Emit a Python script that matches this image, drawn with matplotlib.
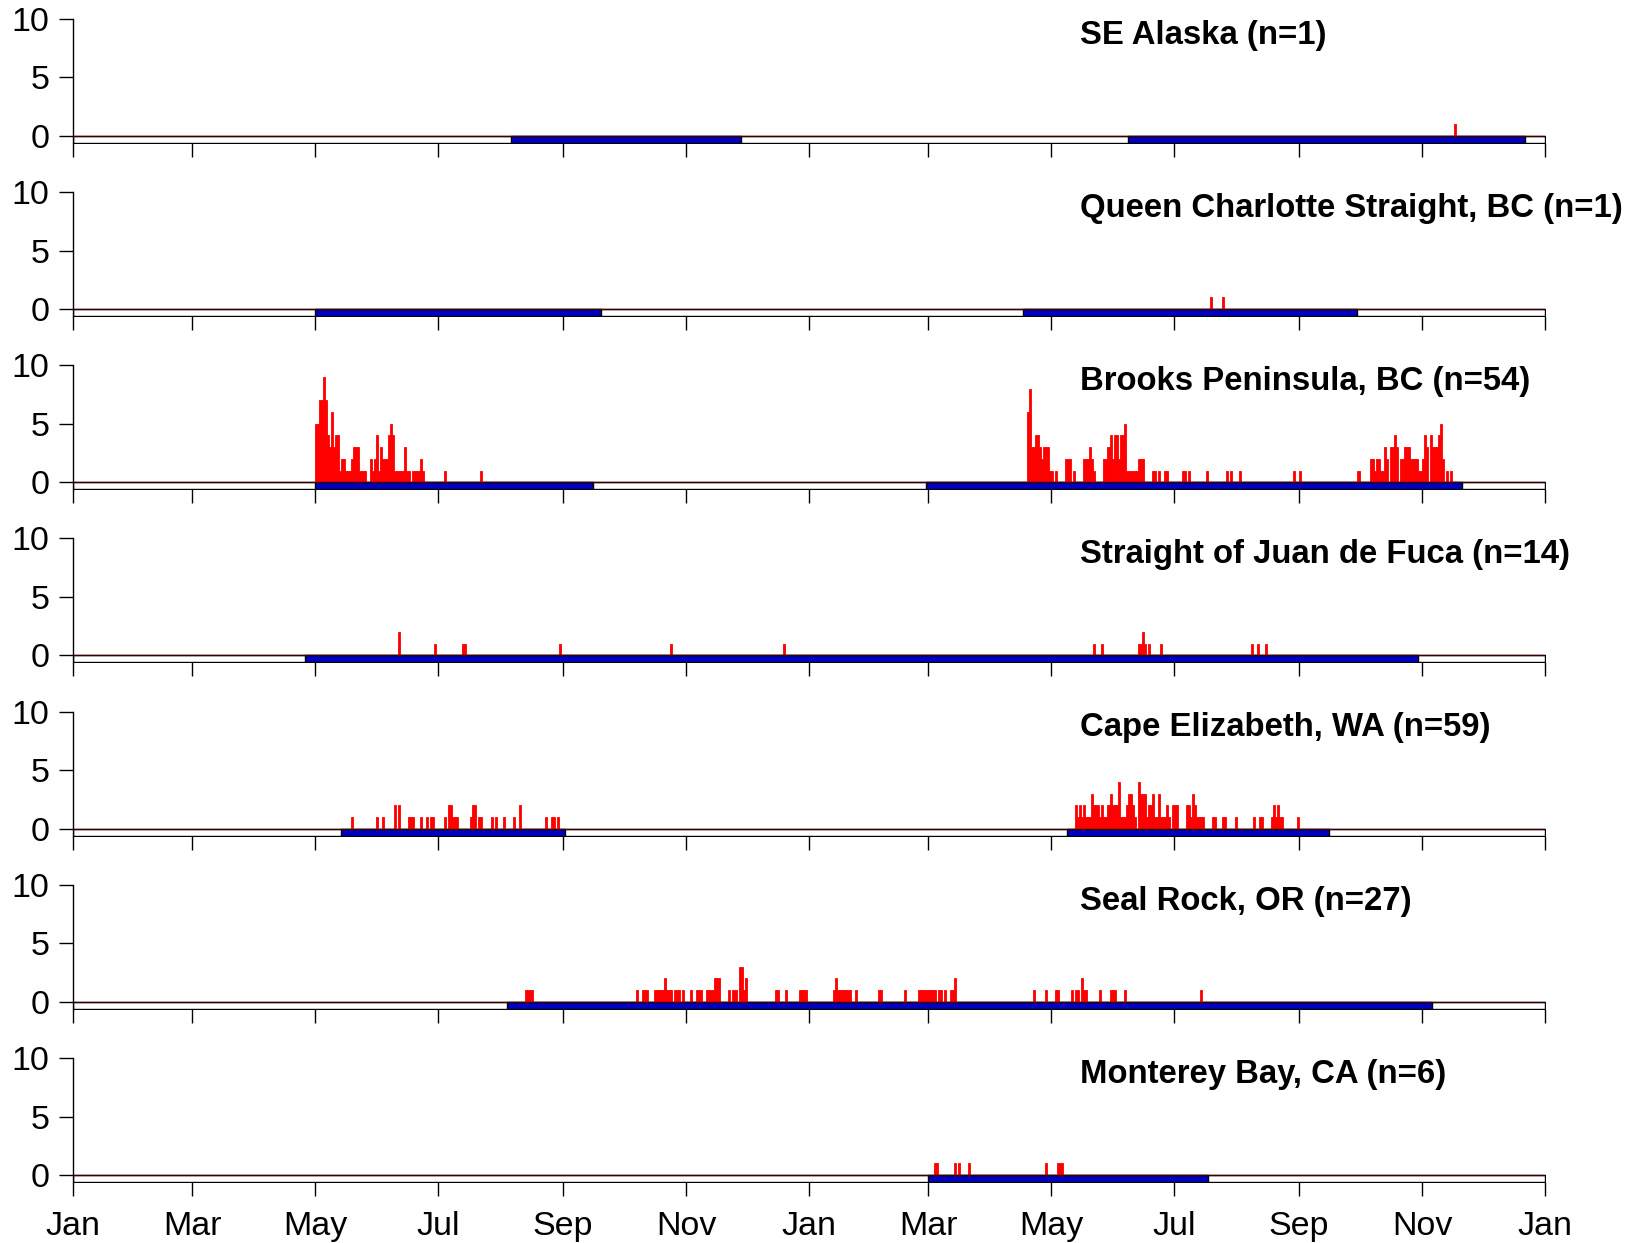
import numpy as np
import pandas as pd
import matplotlib
matplotlib.use("Agg")
import matplotlib.pyplot as plt
import matplotlib.transforms as mtransforms

# === DATA (day index from Jan 1 of year 1, daily counts) ===
alaska = [(685, 1)]
alaska_deploy = [(217, 331), (523, 720)]

queen = [(564, 1), (570, 1)]
queen_deploy = [(120, 262), (471, 637)]

brooks = [(120, 5), (121, 5), (122, 7), (123, 7), (124, 9), (125, 7), (126, 4), (127, 3),
          (128, 6), (129, 3), (130, 4), (131, 4), (132, 1), (133, 2), (134, 2), (135, 1),
          (136, 1), (137, 1), (138, 2), (139, 3), (140, 3), (141, 3), (142, 1), (143, 1),
          (144, 1), (147, 2), (148, 1), (149, 2), (150, 4), (151, 1), (152, 3), (153, 2),
          (154, 2), (155, 2), (156, 4), (157, 5), (158, 4), (159, 1), (160, 1), (161, 1),
          (162, 1), (163, 1), (164, 3), (165, 1), (166, 1), (168, 1), (169, 1), (170, 1),
          (171, 1), (172, 2), (173, 1), (184, 1), (202, 1),
          (473, 6), (474, 8), (475, 3), (476, 3), (477, 4), (478, 4), (479, 3), (480, 2),
          (481, 3), (482, 3), (483, 3), (484, 1), (485, 1), (487, 1), (492, 2), (493, 2),
          (494, 2), (496, 1), (501, 2), (502, 2), (503, 2), (504, 3), (505, 2), (506, 1),
          (511, 2), (512, 2), (513, 3), (514, 4), (515, 2), (516, 4), (517, 4), (518, 2),
          (519, 4), (520, 4), (521, 5), (522, 1), (523, 1), (524, 1), (525, 1), (526, 1),
          (527, 1), (528, 2), (529, 2), (530, 2), (535, 1), (536, 1), (538, 1), (541, 1),
          (542, 1), (550, 1), (551, 1), (553, 1), (562, 1), (572, 1), (574, 1), (578, 1),
          (605, 1), (608, 1), (637, 1), (643, 2), (644, 2), (645, 1), (646, 2), (647, 2),
          (648, 1), (649, 1), (650, 3), (651, 2), (653, 3), (654, 3), (655, 4), (656, 3),
          (658, 2), (659, 2), (660, 3), (661, 3), (662, 3), (663, 2), (664, 2), (665, 2),
          (666, 2), (667, 1), (668, 1), (669, 2), (670, 4), (671, 3), (673, 4), (674, 3),
          (675, 3), (676, 3), (677, 4), (678, 5), (679, 2), (681, 1), (683, 1)]
brooks_deploy = [(120, 258), (423, 689)]

fuca = [(161, 2), (179, 1), (193, 1), (194, 1), (241, 1), (296, 1), (352, 1), (506, 1),
        (510, 1), (528, 1), (529, 1), (530, 2), (531, 1), (533, 1), (539, 1), (584, 1),
        (587, 1), (591, 1)]
fuca_deploy = [(115, 667)]

cape = [(138, 1), (150, 1), (153, 1), (159, 2), (161, 2), (166, 1), (167, 1), (168, 1),
        (172, 1), (175, 1), (177, 1), (178, 1), (184, 1), (186, 2), (187, 2), (188, 1),
        (189, 1), (190, 1), (197, 1), (198, 2), (199, 2), (201, 1), (202, 1), (207, 1),
        (209, 1), (213, 1), (218, 1), (221, 2), (234, 1), (237, 1), (238, 1), (240, 1),
        (497, 2), (498, 1), (499, 2), (500, 1), (501, 2), (502, 1), (503, 1), (504, 1),
        (505, 3), (506, 2), (507, 2), (508, 2), (509, 1), (510, 2), (511, 1), (512, 1),
        (513, 2), (514, 3), (515, 2), (516, 2), (517, 2), (518, 4), (519, 1), (520, 1),
        (521, 1), (522, 2), (523, 3), (524, 3), (525, 2), (526, 1), (528, 4), (529, 3),
        (530, 3), (531, 3), (532, 1), (533, 2), (534, 2), (535, 3), (536, 1), (537, 1),
        (538, 3), (539, 1), (540, 1), (541, 1), (542, 2), (543, 1), (545, 2), (546, 2),
        (547, 2), (552, 2), (553, 2), (554, 1), (555, 3), (556, 2), (557, 1), (558, 1),
        (559, 1), (560, 1), (565, 1), (566, 1), (570, 1), (571, 1), (576, 1), (585, 1),
        (588, 1), (589, 1), (594, 1), (595, 2), (596, 1), (597, 2), (598, 1), (599, 1),
        (607, 1)]
cape_deploy = [(133, 244), (493, 623)]

seal = [(224, 1), (225, 1), (226, 1), (227, 1), (279, 1), (282, 1), (283, 1), (284, 1),
        (288, 1), (289, 1), (290, 1), (291, 1), (292, 1), (293, 2), (294, 1), (295, 1),
        (296, 1), (298, 1), (299, 1), (300, 1), (302, 1), (306, 1), (309, 1), (310, 1),
        (311, 1), (314, 1), (315, 1), (316, 1), (317, 1), (318, 2), (319, 2), (320, 2),
        (325, 1), (327, 1), (328, 1), (330, 3), (331, 3), (332, 1), (333, 2), (348, 1),
        (349, 1), (353, 1), (360, 1), (361, 1), (362, 1), (363, 1), (377, 1), (378, 2),
        (379, 1), (380, 1), (381, 1), (382, 1), (383, 1), (384, 1), (385, 1), (388, 1),
        (399, 1), (400, 1), (412, 1), (419, 1), (420, 1), (421, 1), (422, 1), (423, 1),
        (424, 1), (425, 1), (426, 1), (427, 1), (429, 1), (430, 1), (432, 1), (435, 1),
        (436, 1), (437, 2), (476, 1), (482, 1), (487, 1), (488, 1), (495, 1), (497, 1),
        (498, 1), (500, 2), (501, 1), (502, 1), (509, 1), (514, 1), (515, 1), (516, 1),
        (521, 1), (559, 1)]
seal_deploy = [(215, 674)]

monterey = [(427, 1), (428, 1), (437, 1), (439, 1), (444, 1), (482, 1), (488, 1),
            (489, 1), (490, 1)]
monterey_deploy = [(424, 563)]

titles = ["SE Alaska (n=1)", "Queen Charlotte Straight, BC (n=1)",
          "Brooks Peninsula, BC (n=54)", "Straight of Juan de Fuca (n=14)",
          "Cape Elizabeth, WA (n=59)", "Seal Rock, OR (n=27)", "Monterey Bay, CA (n=6)"]
series = [alaska, queen, brooks, fuca, cape, seal, monterey]
deploys = [alaska_deploy, queen_deploy, brooks_deploy, fuca_deploy,
           cape_deploy, seal_deploy, monterey_deploy]

# month ticks every 2 months over two (non-leap) years
start = pd.Timestamp("2001-01-01")
tick_dates = pd.date_range("2001-01-01", "2003-01-01", freq="2MS")
tick_pos = [(d - start).days for d in tick_dates]
tick_labels = [d.strftime("%b") for d in tick_dates]
n_days = tick_pos[-1]

# === PLOT ===
plt.rcParams["font.family"] = ["Liberation Sans", "DejaVu Sans"]
plt.rcParams["font.size"] = 24

W, H = 1639, 1243
fig = plt.figure(figsize=(W / 100, H / 100), dpi=100)

ymin, ymax = -0.6, 10
left = 73.2 / W
width = (1545 - 73.2) / W
ax_h = 124.1
top0 = 18.8
step = 173.2

for i, (title, data, dep) in enumerate(zip(titles, series, deploys)):
    top = top0 + i * step
    ax = fig.add_axes([left, 1 - (top + ax_h) / H, width, ax_h / H])

    # white strip with outline across the whole span
    ax.broken_barh([(0, n_days)], (ymin, -ymin), facecolors="white",
                   edgecolor="black", linewidth=1.0, zorder=1)
    # deployment periods
    ax.broken_barh([(s, e - s) for s, e in dep], (ymin, -ymin),
                   facecolors="#0000c0", edgecolor="black", linewidth=1.0, zorder=2)

    days = np.array([d for d, c in data])
    counts = np.array([c for d, c in data])
    ax.bar(days, counts, width=1.0, align="edge", color="red",
           edgecolor="red", linewidth=0.6, zorder=3)
    ax.axhline(0, color="#3a0000", linewidth=1.0, zorder=4)

    ax.set_xlim(0, n_days)
    ax.set_ylim(ymin, ymax)
    ax.set_yticks([0, 5, 10])
    ax.set_xticks(tick_pos)
    if i == len(titles) - 1:
        ax.set_xticklabels(tick_labels)
    else:
        ax.set_xticklabels([])
    ax.tick_params(axis="both", direction="out", length=10, width=1.0,
                   color="black", labelsize=24.5)
    ax.tick_params(axis="x", pad=11)
    ax.tick_params(axis="y", pad=7)
    for side in ["top", "right", "bottom"]:
        ax.spines[side].set_visible(False)
    ax.spines["left"].set_linewidth(1.0)
    ax.patch.set_alpha(0)

    trans = mtransforms.blended_transform_factory(ax.transAxes, ax.transData)
    ax.text(0.684, 8.6, title, transform=trans, fontsize=23.7,
            fontweight="bold", ha="left", va="center")

fig.savefig("out.png", dpi=100)
